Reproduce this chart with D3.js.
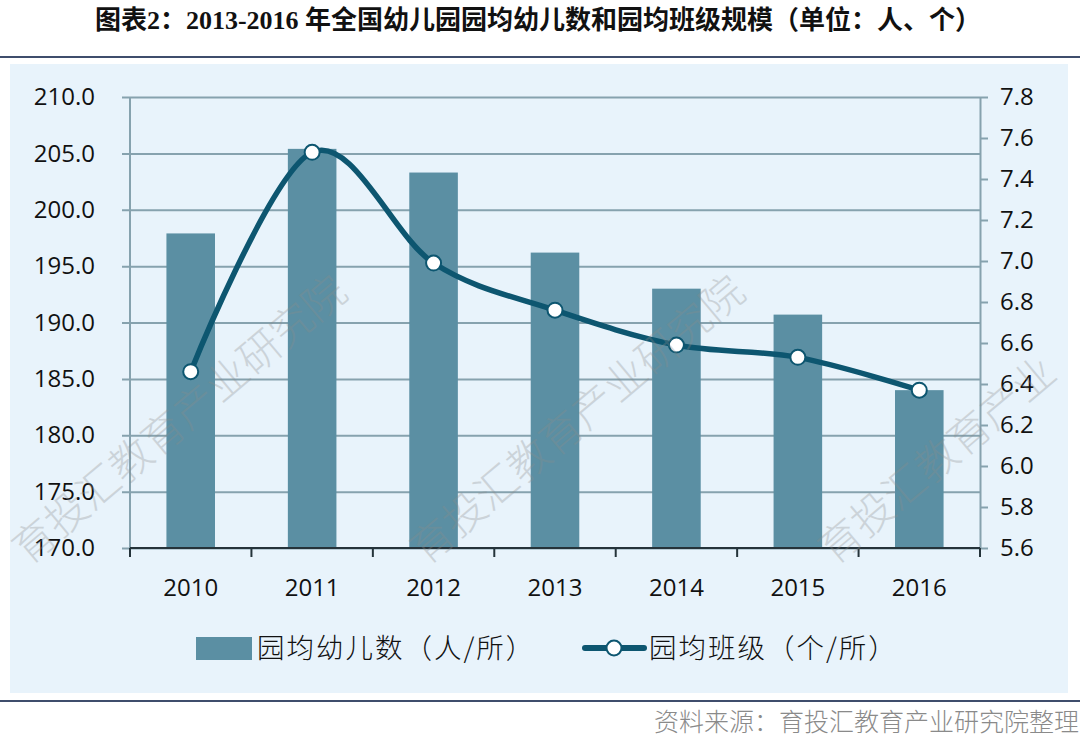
<!DOCTYPE html>
<html>
<head>
<meta charset="utf-8">
<script src="https://cdn.jsdelivr.net/npm/d3@7"></script>
<style>
  body { margin: 0; background: #fff; }
  svg { display: block; }
</style>
</head>
<body>
<div id="chart"></div>
<script>
const years = ["2010", "2011", "2012", "2013", "2014", "2015", "2016"];
const kidsPerKg = [197.9, 205.4, 203.3, 196.2, 193.0, 190.7, 184.0];
const classesPerKg = [6.46, 7.53, 6.99, 6.76, 6.59, 6.53, 6.37];
const leftTicks = [170, 175, 180, 185, 190, 195, 200, 205, 210];
const rightTicks = [5.6, 5.8, 6.0, 6.2, 6.4, 6.6, 6.8, 7.0, 7.2, 7.4, 7.6, 7.8];
const titleText = "图表2：2013-2016 年全国幼儿园园均幼儿数和园均班级规模（单位：人、个）";
const legendLabels = ["园均幼儿数（人/所）", "园均班级（个/所）"];
const sourceText = "资料来源：育投汇教育产业研究院整理";
const watermark = "育投汇教育产业研究院";

const W = 1080, H = 750;
const plot = { left: 130, right: 980, top: 97, bottom: 548 };
const barColor = "#5b8fa3", lineColor = "#0d5670", gridColor = "#86a2ae";
const tickFont = "'Open Sans', 'Noto Sans', sans-serif";
const cjkFont = "'Noto Sans CJK SC', sans-serif";

const svg = d3.select("#chart").append("svg")
    .attr("width", W)
    .attr("height", H);

// title and frame
svg.append("text")
    .attr("x", 538)
    .attr("y", 29)
    .attr("text-anchor", "middle")
    .style("font-family", "'Liberation Serif', 'Noto Sans CJK SC', serif")
    .style("font-weight", "bold")
    .style("font-size", "26px")
    .style("fill", "#111")
    .text(titleText);

svg.append("line")
    .attr("x1", 0).attr("x2", W).attr("y1", 57).attr("y2", 57)
    .attr("stroke", "#3f4d6c").attr("stroke-width", 2);

svg.append("rect")
    .attr("x", 10).attr("y", 64)
    .attr("width", 1058).attr("height", 629)
    .attr("fill", "#e8f3fb");

svg.append("line")
    .attr("x1", 0).attr("x2", W).attr("y1", 701).attr("y2", 701)
    .attr("stroke", "#3f4d6c").attr("stroke-width", 2);

svg.append("text")
    .attr("x", 1079)
    .attr("y", 731)
    .attr("text-anchor", "end")
    .style("font-family", cjkFont)
    .style("font-weight", 300)
    .style("font-size", "25px")
    .style("fill", "#8a8a8a")
    .text(sourceText);

// scales
const x = d3.scaleBand()
    .domain(years)
    .range([plot.left, plot.right])
    .paddingInner(0.6)
    .paddingOuter(0.3);

const yL = d3.scaleLinear().domain([170, 210]).range([plot.bottom, plot.top]);
const yR = d3.scaleLinear().domain([5.6, 7.8]).range([plot.bottom, plot.top]);

// grid + left labels
const leftAxis = svg.append("g")
    .attr("transform", `translate(${plot.left - 8},0)`)
    .call(d3.axisLeft(yL)
        .tickValues(leftTicks)
        .tickSize(-(plot.right - plot.left + 8))
        .tickPadding(27)
        .tickFormat(d3.format(".1f")));
leftAxis.select(".domain").remove();
leftAxis.selectAll(".tick line").attr("stroke", gridColor).attr("stroke-width", 2);
leftAxis.selectAll(".tick text")
    .style("font-family", tickFont)
    .style("font-size", "24px")
    .style("fill", "#111");

// vertical axis lines
svg.append("line")
    .attr("x1", plot.left).attr("x2", plot.left)
    .attr("y1", plot.top).attr("y2", plot.bottom)
    .attr("stroke", gridColor).attr("stroke-width", 2);

const rightAxis = svg.append("g")
    .attr("transform", `translate(${plot.right},0)`)
    .call(d3.axisRight(yR)
        .tickValues(rightTicks)
        .tickSize(8)
        .tickSizeOuter(0)
        .tickPadding(12)
        .tickFormat(d3.format(".1f")));
rightAxis.select(".domain").attr("stroke", gridColor).attr("stroke-width", 2);
rightAxis.selectAll(".tick line").attr("stroke", gridColor).attr("stroke-width", 2);
rightAxis.selectAll(".tick text")
    .style("font-family", tickFont)
    .style("font-size", "24px")
    .style("fill", "#111");

// bars
svg.append("g").selectAll("rect")
    .data(years)
    .join("rect")
    .attr("x", d => x(d))
    .attr("y", (d, i) => yL(kidsPerKg[i]))
    .attr("width", x.bandwidth())
    .attr("height", (d, i) => yL(170) - yL(kidsPerKg[i]))
    .attr("fill", barColor);

// bottom axis
const step = x.step();
const bounds = years.map(d => x(d) + x.bandwidth() / 2 - step / 2)
    .concat([x(years[years.length - 1]) + x.bandwidth() / 2 + step / 2]);

svg.append("line")
    .attr("x1", plot.left).attr("x2", plot.right)
    .attr("y1", plot.bottom).attr("y2", plot.bottom)
    .attr("stroke", "#25333a").attr("stroke-width", 2);

svg.append("g").selectAll("line")
    .data(bounds)
    .join("line")
    .attr("x1", d => d).attr("x2", d => d)
    .attr("y1", plot.bottom).attr("y2", plot.bottom + 9)
    .attr("stroke", "#25333a").attr("stroke-width", 2);

const xAxis = svg.append("g")
    .attr("transform", `translate(0,${plot.bottom})`)
    .call(d3.axisBottom(x).tickSize(0).tickPadding(31));
xAxis.select(".domain").remove();
xAxis.selectAll(".tick text")
    .style("font-family", tickFont)
    .style("font-size", "24px")
    .style("fill", "#111");

// line
const cx = d => x(d) + x.bandwidth() / 2;
const line = d3.line()
    .x(d => cx(d))
    .y((d, i) => yR(classesPerKg[i]))
    .curve(d3.curveCardinal.tension(0));

svg.append("path")
    .datum(years)
    .attr("d", line)
    .attr("fill", "none")
    .attr("stroke", lineColor)
    .attr("stroke-width", 5.5)
    .attr("stroke-linecap", "round");

svg.append("g").selectAll("circle")
    .data(years)
    .join("circle")
    .attr("cx", d => cx(d))
    .attr("cy", (d, i) => yR(classesPerKg[i]))
    .attr("r", 7.5)
    .attr("fill", "#fff")
    .attr("stroke", lineColor)
    .attr("stroke-width", 2);

// watermarks (on top, faint); the last one runs off the right edge as in the source
[[28, 566, 10], [426, 566, 10], [834, 566, 7]].forEach(([wx, wy, n]) => {
    svg.append("text")
        .attr("transform", `translate(${wx},${wy}) rotate(-40)`)
        .style("font-family", cjkFont)
        .style("font-weight", 300)
        .style("font-size", "42px")
        .style("fill", "#8c8c8c")
        .style("opacity", 0.3)
        .text(watermark.slice(0, n));
});

// legend
const legend = svg.append("g");
legend.append("rect")
    .attr("x", 196).attr("y", 637)
    .attr("width", 56).attr("height", 23)
    .attr("fill", barColor);
legend.append("text")
    .attr("x", 257).attr("y", 658)
    .style("font-family", cjkFont)
    .style("font-weight", 300)
    .style("font-size", "27.5px")
    .style("letter-spacing", "2px")
    .style("fill", "#111")
    .text(legendLabels[0]);

legend.append("line")
    .attr("x1", 585).attr("x2", 644)
    .attr("y1", 648).attr("y2", 648)
    .attr("stroke", lineColor).attr("stroke-width", 6)
    .attr("stroke-linecap", "round");
legend.append("circle")
    .attr("cx", 614).attr("cy", 648).attr("r", 7.5)
    .attr("fill", "#fff").attr("stroke", lineColor).attr("stroke-width", 2);
legend.append("text")
    .attr("x", 649).attr("y", 658)
    .style("font-family", cjkFont)
    .style("font-weight", 300)
    .style("font-size", "27.5px")
    .style("letter-spacing", "2px")
    .style("fill", "#111")
    .text(legendLabels[1]);
</script>
</body>
</html>
